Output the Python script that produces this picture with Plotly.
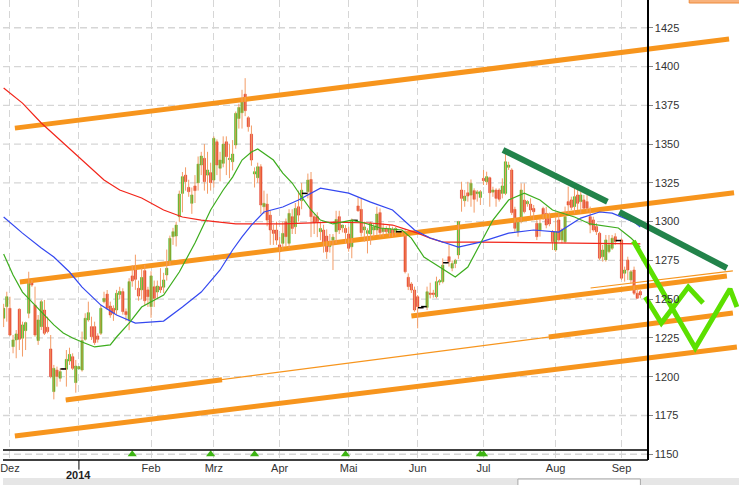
import pandas as pd
import plotly.graph_objects as go

# ---------------- data ----------------
first_day = "2013-11-28"   # first trading day shown (weekdays only)

opens = [1237.7,1245.2,1244.1,1219.4,1223.7,1243.5,1224.8,1229.7,1240.9,1261.3,1246.2,1223.3,1232.3,1243.0,1231.9,1217.9,1190.4,1204.3,1199.0,1205.0,
         1204.8,1210.1,1212.9,1196.2,1205.0,1204.3,1224.1,1236.6,1232.3,1232.3,1226.3,1228.0,1248.4,1253.3,1245.6,1244.1,1243.0,1253.0,1254.9,1242.0,
         1236.6,1265.0,1268.8,1257.0,1256.0,1268.4,1256.0,1245.2,1258.0,1254.6,1258.0,1257.7,1265.6,1274.2,1290.3,1290.7,1303.2,1318.2,1330.0,1322.1,
         1311.8,1323.0,1325.0,1336.5,1340.8,1330.0,1331.6,1326.8,1351.5,1334.4,1337.6,1351.5,1340.0,1338.6,1349.4,1366.5,1370.2,1382.2,1367.0,1356.4,
         1330.7,1328.3,1335.4,1309.6,1311.3,1304.2,1294.6,1294.6,1285.0,1286.0,1299.9,1286.0,1303.2,1296.7,1309.6,1313.5,1318.2,1319.3,1327.2,1303.2,
         1303.2,1293.5,1294.6,1290.7,1283.9,1288.0,1293.5,1303.2,1296.0,1295.6,1292.0,1283.8,1300.8,1310.1,1307.9,1294.6,1292.4,1292.0,1294.6,1294.6,
         1305.8,1293.5,1295.6,1292.5,1295.0,1293.0,1293.5,1293.5,1293.5,1264.1,1259.8,1255.9,1251.6,1244.5,1245.2,1244.7,1254.0,1254.0,1251.6,1261.0,
         1261.3,1273.5,1277.4,1270.0,1273.0,1278.5,1320.4,1313.5,1318.6,1317.1,1320.0,1318.0,1315.6,1327.9,1325.7,1328.3,1319.0,1320.4,1320.4,1318.2,
         1318.2,1335.0,1333.3,1307.9,1293.5,1300.0,1313.9,1311.5,1311.3,1308.5,1298.9,1294.6,1308.5,1305.3,1302.1,1293.5,1281.7,1301.1,1288.2,1287.1,
         1312.9,1314.0,1309.7,1317.2,1312.9,1314.0,1312.9,1303.2,1301.1,1296.8,1292.5,1277.4,1275.3,1280.7,1282.8,1290.3,1287.8,1288.2,1266.7,1275.3,
         1262.4,1268.8,1253.8,1254.9]
highs = [1247.0,1254.8,1251.6,1226.9,1230.1,1244.1,1235.5,1235.5,1267.7,1262.4,1258.1,1239.8,1249.5,1249.5,1238.7,1226.9,1207.6,1206.5,1205.4,1205.0,
         1217.2,1218.7,1215.1,1210.8,1206.5,1229.1,1240.9,1248.4,1238.7,1235.5,1228.0,1246.2,1254.8,1255.9,1248.4,1246.0,1256.0,1258.0,1257.0,1244.0,
         1263.5,1272.0,1278.7,1262.0,1270.0,1272.0,1258.0,1268.0,1262.0,1262.0,1270.0,1267.0,1282.0,1291.0,1296.0,1300.0,1320.0,1332.0,1335.0,1327.0,
         1322.0,1330.0,1342.0,1345.0,1350.0,1345.0,1338.0,1355.0,1353.0,1345.0,1355.0,1355.0,1350.0,1352.6,1371.0,1376.0,1385.0,1392.5,1368.0,1362.0,
         1335.0,1338.0,1337.0,1320.0,1318.0,1307.0,1298.0,1300.0,1290.0,1300.0,1302.0,1308.0,1308.0,1312.0,1320.0,1325.0,1318.2,1331.0,1332.0,1305.0,
         1306.0,1300.0,1298.0,1295.0,1292.0,1292.0,1307.0,1307.0,1298.0,1297.8,1296.7,1302.0,1300.8,1315.6,1315.0,1300.0,1295.7,1300.0,1298.9,1309.6,
         1308.5,1298.9,1297.0,1297.8,1296.7,1296.6,1293.5,1294.6,1294.6,1266.6,1261.0,1258.1,1252.7,1244.5,1245.2,1258.1,1260.6,1256.0,1264.5,1263.0,
         1276.3,1273.5,1284.9,1275.0,1276.0,1300.5,1325.7,1320.4,1325.7,1327.2,1321.5,1320.4,1320.4,1333.3,1332.2,1329.0,1322.5,1321.5,1321.5,1327.9,
         1346.2,1338.6,1334.4,1309.6,1301.0,1324.7,1324.7,1313.9,1315.0,1310.7,1301.0,1302.0,1309.6,1309.6,1305.8,1294.6,1303.2,1305.3,1295.7,1309.7,
         1322.6,1316.1,1323.6,1320.4,1319.3,1317.2,1317.2,1309.7,1303.2,1299.0,1293.5,1285.0,1291.4,1291.4,1291.4,1292.5,1287.8,1289.3,1271.0,1277.4,
         1268.8,1271.0,1257.0,1256.0]
lows = [1232.0,1235.5,1226.3,1215.1,1211.9,1217.2,1213.0,1217.2,1237.7,1258.0,1225.8,1220.5,1230.1,1226.9,1228.0,1199.0,1185.4,1193.6,1196.8,1205.0,
        1193.6,1207.6,1204.3,1189.7,1205.0,1203.3,1223.3,1235.5,1223.7,1220.5,1222.0,1226.9,1247.3,1243.0,1238.0,1236.0,1240.0,1250.0,1240.0,1236.0,
        1230.0,1258.0,1256.0,1249.0,1250.0,1246.0,1245.0,1238.0,1245.0,1250.0,1254.0,1254.0,1262.0,1272.0,1285.0,1284.0,1300.0,1306.0,1320.0,1316.0,
        1305.0,1312.0,1320.0,1330.0,1320.0,1318.0,1320.0,1322.0,1330.0,1326.0,1335.0,1330.0,1328.0,1333.0,1347.0,1360.0,1360.0,1368.0,1358.0,1336.0,
        1322.0,1325.0,1305.0,1305.0,1297.0,1285.0,1285.0,1285.0,1275.0,1282.0,1284.0,1283.0,1292.0,1292.0,1300.0,1308.0,1318.2,1315.0,1290.0,1292.0,
        1290.0,1288.0,1280.0,1276.0,1280.0,1268.8,1286.0,1292.0,1293.0,1286.0,1280.6,1276.4,1300.8,1306.4,1290.3,1287.0,1279.5,1285.0,1290.3,1291.4,
        1290.3,1290.3,1292.0,1290.3,1290.3,1291.0,1293.5,1291.0,1266.6,1255.9,1254.0,1241.9,1231.2,1244.5,1245.2,1243.0,1250.5,1251.0,1250.5,1259.0,
        1260.2,1273.5,1271.0,1268.0,1270.0,1276.0,1306.4,1309.6,1312.9,1309.6,1305.8,1312.9,1310.7,1323.6,1323.6,1309.6,1316.0,1309.6,1312.9,1315.0,
        1317.1,1333.3,1304.3,1293.5,1290.3,1298.9,1305.3,1309.6,1303.2,1301.0,1288.1,1290.3,1301.0,1295.7,1297.0,1281.7,1280.6,1287.1,1286.0,1286.0,
        1305.4,1307.5,1305.4,1307.5,1305.4,1307.5,1306.4,1292.5,1293.5,1291.4,1275.3,1274.2,1274.2,1279.6,1281.7,1285.0,1287.8,1262.4,1261.3,1262.4,
        1260.2,1252.7,1250.6,1250.6]
closes = [1244.1,1251.6,1226.9,1223.7,1227.6,1224.1,1233.4,1234.9,1260.2,1259.1,1226.9,1236.6,1248.4,1228.0,1229.1,1200.1,1205.4,1200.1,1203.3,1205.0,
          1211.2,1214.4,1205.4,1206.9,1206.5,1223.3,1237.7,1241.3,1225.8,1222.0,1224.1,1244.1,1250.5,1244.1,1239.8,1240.9,1253.8,1255.0,1242.0,1240.0,
          1261.3,1261.7,1262.8,1252.0,1264.0,1249.0,1251.6,1265.0,1250.5,1258.5,1256.0,1262.4,1270.0,1289.2,1293.5,1297.8,1317.8,1329.0,1325.8,1319.3,
          1317.2,1320.0,1337.1,1342.3,1325.8,1333.3,1325.1,1353.7,1336.5,1339.7,1350.0,1341.9,1340.8,1343.6,1369.8,1373.6,1377.3,1371.5,1361.2,1339.7,
          1332.2,1335.4,1310.7,1311.8,1301.0,1294.6,1292.4,1288.1,1280.6,1292.4,1290.3,1305.3,1295.6,1308.5,1304.2,1320.3,1318.2,1326.8,1303.2,1299.3,
          1300.0,1295.6,1286.4,1280.6,1287.0,1290.0,1301.4,1294.6,1297.8,1292.9,1282.8,1300.6,1300.8,1307.0,1292.9,1296.6,1294.2,1298.9,1296.6,1304.9,
          1292.9,1295.6,1293.5,1295.6,1292.0,1295.6,1293.5,1292.4,1267.7,1258.1,1255.9,1243.0,1245.2,1244.5,1245.2,1254.8,1253.0,1253.0,1261.3,1262.0,
          1272.0,1273.5,1274.2,1273.0,1275.0,1300.0,1315.0,1316.5,1316.5,1324.7,1314.4,1319.2,1319.3,1326.4,1329.0,1318.6,1320.4,1315.0,1314.4,1323.0,
          1338.6,1336.5,1305.8,1295.7,1300.0,1320.4,1306.4,1313.0,1307.5,1306.4,1290.3,1298.9,1304.2,1297.8,1298.5,1287.1,1293.5,1288.2,1294.6,1303.2,
          1310.7,1309.2,1316.1,1311.8,1317.2,1308.6,1308.6,1297.8,1294.6,1293.5,1276.4,1281.7,1288.2,1285.0,1289.3,1287.1,1287.8,1263.5,1268.8,1268.8,
          1267.7,1253.8,1250.6,1252.7]

# moving averages: (position in the trading-day list, value)
ma_red_pos = [0,6,12,19,25,32,37,44,51,57,63,74,89,105,117,124,128,132,136,140,152,165,178,190,203]
ma_red_val = [1386.1,1376.4,1363.6,1350.7,1339.7,1326.8,1320.4,1315.2,1307.5,1303.0,1301.0,1298.5,1298.5,1299.7,1299.1,
              1297.8,1295.2,1292.6,1289.4,1286.8,1286.8,1286.5,1286.2,1286.2,1285.6]
ma_blue_pos = [0,6,12,16,21,25,31,36,42,51,57,63,69,73,76,79,83,89,94,101,110,117,124,131,136,145,152,161,169,177,184,190,194,201,203]
ma_blue_val = [1303.0,1292.6,1283.0,1277.2,1267.5,1257.8,1246.2,1239.8,1234.6,1235.9,1244.9,1254.6,1268.8,1281.7,1290.1,1297.8,
               1306.2,1309.4,1313.9,1321.6,1318.4,1312.6,1307.5,1294.6,1289.4,1283.6,1286.8,1292.6,1294.6,1293.3,1302.3,1306.2,
               1305.5,1299.7,1296.5]
ma_green_pos = [0,3,6,9,12,16,19,22,25,29,34,36,40,44,51,56,61,66,70,73,76,79,81,86,89,92,95,98,101,105,111,115,120,127,130,
                134,139,144,148,152,156,161,166,171,175,182,187,196,200,203]
ma_green_val = [1279.1,1265.6,1254.6,1248.2,1241.7,1233.4,1228.2,1225.0,1222.4,1219.2,1220.5,1225.6,1234.6,1244.9,1252.7,1267.5,
                1286.2,1307.5,1320.4,1328.7,1339.7,1344.9,1346.8,1339.7,1331.3,1324.9,1315.9,1307.5,1301.0,1298.5,1301.0,1299.1,
                1295.9,1294.6,1289.4,1277.2,1270.7,1264.3,1270.7,1286.2,1301.0,1313.9,1318.4,1313.9,1307.5,1303.0,1298.5,1295.9,
                1289.4,1283.6]

# hand-drawn trend lines (date, price)
chan_top_x = ["2013-12-04 02:00", "2014-10-17 19:00"];  chan_top_y = [1360.3, 1417.7]
chan_mid_x = ["2013-12-05 16:00", "2014-10-21 09:00"];  chan_mid_y = [1261.1, 1318.6]
chan_c_x = ["2014-05-29 12:00", "2014-10-17 02:00"];    chan_c_y = [1239.2, 1264.9]
chan_c_thin_x = ["2014-08-18 15:00", "2014-10-21 00:00"]; chan_c_thin_y = [1257.2, 1268.2]
chan_d_x = ["2013-12-26 07:00", "2014-10-21 00:00"];    chan_d_y = [1185.0, 1241.1]
chan_d_seg1_x = ["2013-12-26 07:00", "2014-03-06 03:00"]; chan_d_seg1_y = [1185.0, 1198.0]
chan_d_seg2_x = ["2014-07-30 07:00", "2014-10-21 00:00"]; chan_d_seg2_y = [1225.6, 1241.1]
chan_low_x = ["2013-12-04 02:00", "2014-10-22 07:00"];  chan_low_y = [1161.8, 1219.2]
down1_x = ["2014-07-09 17:00", "2014-08-26 00:00"];     down1_y = [1346.2, 1312.8]
down2_x = ["2014-08-29 19:00", "2014-10-17 02:00"];     down2_y = [1306.2, 1270.1]
zig_big_x = ["2014-09-05 07:00", "2014-10-03 00:00", "2014-10-20 02:00", "2014-10-22 07:00"]
zig_big_y = [1287.5, 1218.5, 1256.6, 1245.0]
zig_small_x = ["2014-09-11 02:00", "2014-09-18 05:00", "2014-09-30 19:00", "2014-10-07 12:00"]
zig_small_y = [1251.4, 1234.6, 1257.8, 1247.5]

signal_dates = ["2014-01-24 12:00", "2014-02-28 12:00", "2014-03-20 12:00", "2014-04-30 12:00",
                "2014-06-30 12:00", "2014-07-01 12:00"]
signal_level = 1150

month_ticks = ["2013-12-02 12:00", "2014-01-01 12:00", "2014-02-03 12:00", "2014-03-03 12:00", "2014-04-01 12:00",
               "2014-05-01 12:00", "2014-06-02 12:00", "2014-07-01 12:00", "2014-08-01 12:00", "2014-09-01 12:00"]
month_labels = ["Dez", "", "Feb", "Mrz", "Apr", "Mai", "Jun", "Jul", "Aug", "Sep"]
year_tick = "2014-01-01 12:00"
year_label = "2014"
price_ticks = [1150, 1175, 1200, 1225, 1250, 1275, 1300, 1325, 1350, 1375, 1400, 1425]

# ---------------- styling ----------------
FONT = "Liberation Sans, Arial, sans-serif"
UP, DOWN, WICK = "#38b20e", "#e2301c", "#f39c66"
ORANGE, DKGREEN, LIME = "#f7951d", "#22834a", "#5ce000"
AXPOS = 647.5 / 739
DAY_MS = 86400000

dates = pd.bdate_range(first_day, periods=len(opens)) + pd.Timedelta(hours=12)

fig = go.Figure()

def line(x, y, color, width):
    fig.add_trace(go.Scatter(x=x, y=y, mode="lines", line=dict(color=color, width=width),
                             hoverinfo="skip", showlegend=False))

# orange channel lines
line(chan_d_x, chan_d_y, ORANGE, 1.2)
line(chan_c_thin_x, chan_c_thin_y, ORANGE, 1.2)
for lx, ly in [(chan_top_x, chan_top_y), (chan_mid_x, chan_mid_y), (chan_c_x, chan_c_y),
               (chan_d_seg1_x, chan_d_seg1_y), (chan_d_seg2_x, chan_d_seg2_y), (chan_low_x, chan_low_y)]:
    line(lx, ly, ORANGE, 5)

# wicks
wx, wy = [], []
for d, h, l in zip(dates, highs, lows):
    wx += [d, d, None]
    wy += [l, h, None]
fig.add_trace(go.Scatter(x=wx, y=wy, mode="lines", line=dict(color=WICK, width=1),
                         hoverinfo="skip", showlegend=False))

# bodies (open -> close) as floating bars
body_lo = [min(o, c) for o, c in zip(opens, closes)]
body_h = [abs(c - o) for o, c in zip(opens, closes)]
body_col = [UP if c > o else DOWN for o, c in zip(opens, closes)]
fig.add_trace(go.Bar(x=dates, base=body_lo, y=body_h, width=0.72 * DAY_MS,
                     marker=dict(color=body_col, line=dict(color=body_col, width=0.5)),
                     hoverinfo="skip", showlegend=False))
# doji dashes
dj = [(d, o) for d, o, c in zip(dates, opens, closes) if o == c]
fig.add_trace(go.Scatter(x=[d for d, _ in dj], y=[v for _, v in dj], mode="markers",
                         marker=dict(symbol="line-ew", size=4, line=dict(color="black", width=1.5)),
                         hoverinfo="skip", showlegend=False))

# moving averages
line([dates[p] for p in ma_red_pos], ma_red_val, "#f2251a", 1.2)
line([dates[p] for p in ma_blue_pos], ma_blue_val, "#3448f0", 1.2)
line([dates[p] for p in ma_green_pos], ma_green_val, "#3dad1e", 1.2)

# green trend lines
line(down1_x, down1_y, DKGREEN, 6)
line(down2_x, down2_y, DKGREEN, 6)
line(zig_big_x, zig_big_y, LIME, 5)
line(zig_small_x, zig_small_y, LIME, 5)

# signal triangles
fig.add_trace(go.Scatter(x=signal_dates, y=[signal_level] * len(signal_dates), mode="markers",
                         marker=dict(symbol="triangle-up", size=8, color="#3cb412"),
                         hoverinfo="skip", showlegend=False, cliponaxis=False))

shapes = []
for v in price_ticks:
    shapes.append(dict(type="line", xref="paper", x0=0, x1=AXPOS, yref="y", y0=v, y1=v,
                       line=dict(color="#d6d6d6", width=1.3, dash="7px,4px"), layer="below"))
# bottom axis line and separator of the signal strip
shapes.append(dict(type="line", xref="paper", x0=0, x1=AXPOS, yref="paper", y0=0, y1=0,
                   line=dict(color="black", width=1.5)))
shapes.append(dict(type="line", xref="paper", x0=0, x1=AXPOS, yref="y", y0=1152.8, y1=1152.8,
                   line=dict(color="black", width=1.5)))
# year tick mark
shapes.append(dict(type="line", xref="x", x0=year_tick, x1=year_tick, yref="paper", y0=0, y1=-0.021,
                   line=dict(color="black", width=1)))
# bottom tool strip
shapes.append(dict(type="rect", xref="paper", x0=0, x1=1, yref="paper", y0=-(478 - 460) / 460, y1=-(486 - 460) / 460,
                   fillcolor="#e6e6e6", line=dict(width=0), layer="below"))
shapes.append(dict(type="rect", xref="paper", x0=517 / 739, x1=640 / 739, yref="paper", y0=-(479 - 460) / 460,
                   y1=-(487 - 460) / 460, fillcolor="white", line=dict(color="#a8a8a8", width=1)))
# top right button edge
shapes.append(dict(type="rect", xref="paper", x0=689 / 739, x1=1.01, yref="paper", y0=1 - 3 / 460, y1=1.01,
                   fillcolor="#f8b27c", line=dict(color="#ee8a3a", width=1)))

fig.update_layout(
    width=739, height=485,
    margin=dict(l=0, r=0, t=0, b=25),
    paper_bgcolor="white", plot_bgcolor="white",
    showlegend=False,
    font=dict(family=FONT, size=11, color="#333333"),
    shapes=shapes,
    annotations=[dict(x=year_tick, xref="x", y=-(475 - 460) / 460, yref="paper", text="<b>" + year_label + "</b>",
                      showarrow=False, font=dict(family=FONT, size=11, color="#222222"),
                      xanchor="center", yanchor="middle")],
    xaxis=dict(
        type="date", domain=[0, 1],
        range=["2013-11-28 07:00", "2014-10-22 23:00"],
        rangebreaks=[dict(bounds=["sat", "mon"])],
        tickmode="array", tickvals=month_ticks, ticktext=month_labels,
        ticklabeloverflow="allow",
        showgrid=True, gridcolor="#d6d6d6", gridwidth=1.3, griddash="7px,4px",
        ticks="", showline=False, zeroline=False,
        tickfont=dict(family=FONT, size=11, color="#333333"),
    ),
    yaxis=dict(
        range=[1146.3, 1442.9], anchor="free", position=AXPOS, side="right",
        tickmode="array", tickvals=price_ticks,
        showgrid=False, zeroline=False,
        showline=True, linecolor="black", linewidth=1.5,
        ticks="outside", ticklen=4, tickcolor="#888888",
        tickfont=dict(family=FONT, size=11, color="#333333"),
    ),
)

fig.write_html("out.html", config={"displayModeBar": False},
               post_script="document.body.style.margin='0';document.body.style.overflow='hidden';")
